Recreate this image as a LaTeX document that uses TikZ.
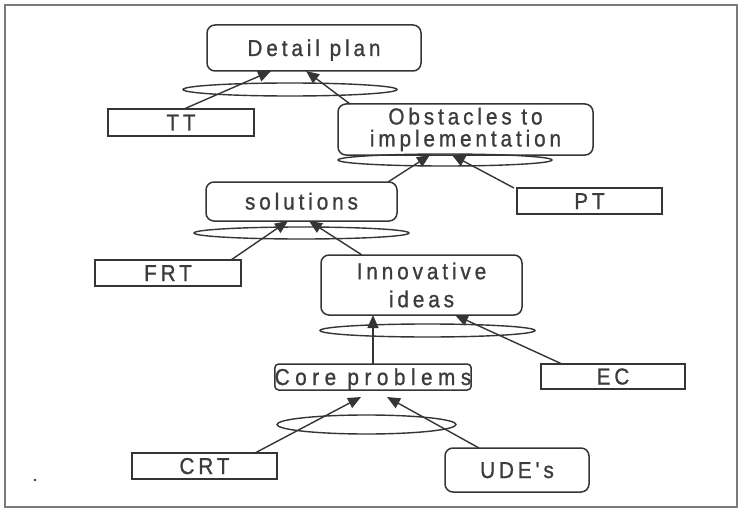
\documentclass[tikz,border=0pt]{standalone}
\usepackage{fontspec}
\usetikzlibrary{arrows.meta,shapes.geometric}
\newfontfamily\lblfont{Liberation Sans}[LetterSpace=17,FakeBold=1,FakeStretch=0.9]
\definecolor{inkline}{HTML}{353535}
\definecolor{inktext}{HTML}{3C3C3C}
\definecolor{framegray}{HTML}{7A7A7A}
\tikzset{
  x=1pt, y=-1pt,
  lbl/.style={font=\lblfont\fontsize{23}{22}\selectfont, text=inktext, align=center,
              inner sep=0pt, outer sep=0pt, draw=inkline, line width=1.5pt},
  roundbox/.style={lbl, rounded corners=8pt},
  flatbox/.style={lbl},
  oneline/.style={text height=16pt, text depth=0pt},
  ring/.style={ellipse, draw=inkline, line width=1.4pt, inner sep=0pt, outer sep=0pt},
  link/.style={draw=inkline, line width=1.4pt, -{Triangle[length=13pt,width=11pt]}}
}
\begin{document}
\begin{tikzpicture}
\useasboundingbox (0,0) rectangle (740,511);
\fill[white] (0,0) rectangle (740,511);
\draw[framegray, line width=2pt] (5,5) rectangle (737,507);

% boxes
\node[roundbox, oneline, minimum width=214pt, minimum height=46pt] (detail) at (314,48) {Detail plan};
\node[flatbox, oneline, minimum width=146pt, minimum height=27pt] (tt) at (181,122.5) {TT};
\node[roundbox, minimum width=255pt, minimum height=51pt] (obst) at (465.5,129.5) {Obstacles to\\implementation};
\node[roundbox, oneline, minimum width=191pt, minimum height=39pt] (sol) at (301.5,201.5) {solutions};
\node[flatbox, oneline, minimum width=145pt, minimum height=26pt] (pt) at (589.5,201) {PT};
\node[flatbox, oneline, minimum width=146pt, minimum height=26pt] (frt) at (168,273) {FRT};
\node[roundbox, minimum width=201pt, minimum height=60pt] (innov) at (421.5,285) {Innovative\\[6pt]ideas};
\node[lbl, oneline, rounded corners=4pt, minimum width=194pt, minimum height=26pt] (core) at (373,377)
  {\addfontfeature{LetterSpace=24}Core problems};
\node[flatbox, oneline, minimum width=144pt, minimum height=25pt] (ec) at (613,376.5) {EC};
\node[flatbox, oneline, minimum width=145pt, minimum height=26pt] (crt) at (204.5,466) {CRT};
\node[roundbox, oneline, minimum width=144pt, minimum height=44pt] (ude) at (517,470) {UDE's};

% sufficiency rings
\node[ring, minimum width=214pt, minimum height=13pt] (r1) at (290,89.5) {};
\node[ring, minimum width=214pt, minimum height=12pt] (r2) at (445,160) {};
\node[ring, minimum width=215pt, minimum height=12pt] (r3) at (301.5,233) {};
\node[ring, minimum width=215pt, minimum height=13pt] (r4) at (427.5,330.5) {};
\node[ring, minimum width=179pt, minimum height=19pt] (r5) at (366.5,424.5) {};

% connectors
\draw[link] ([xshift=3pt]tt.north) -- ([xshift=-43pt]detail.south);
\draw[link] ([xshift=12pt]obst.north west) -- ([xshift=-8pt]detail.south);
\draw[link] ([xshift=-9pt]sol.north east) -- ([xshift=-35.5pt]obst.south);
\draw[link] ([xshift=-75.5pt]pt.north) -- ([xshift=-13.5pt]obst.south);
\draw[link] ([xshift=63pt]frt.north) -- ([xshift=-13.5pt]sol.south);
\draw[link] ([xshift=41pt]innov.north west) -- ([xshift=7.5pt]sol.south);
\draw[link] (core.north) -- (core.north |- innov.south);
\draw[link] ([xshift=-51pt]ec.north) -- ([xshift=33.5pt]innov.south);
\draw[link] ([xshift=50.5pt]crt.north) -- ([xshift=-12pt,yshift=-7pt]core.south);
\draw[link] ([xshift=-38pt]ude.north) -- ([xshift=14pt,yshift=-7pt]core.south);

% stray mark
\fill[inkline] (35,480) circle (1.3pt);
\end{tikzpicture}
\end{document}
